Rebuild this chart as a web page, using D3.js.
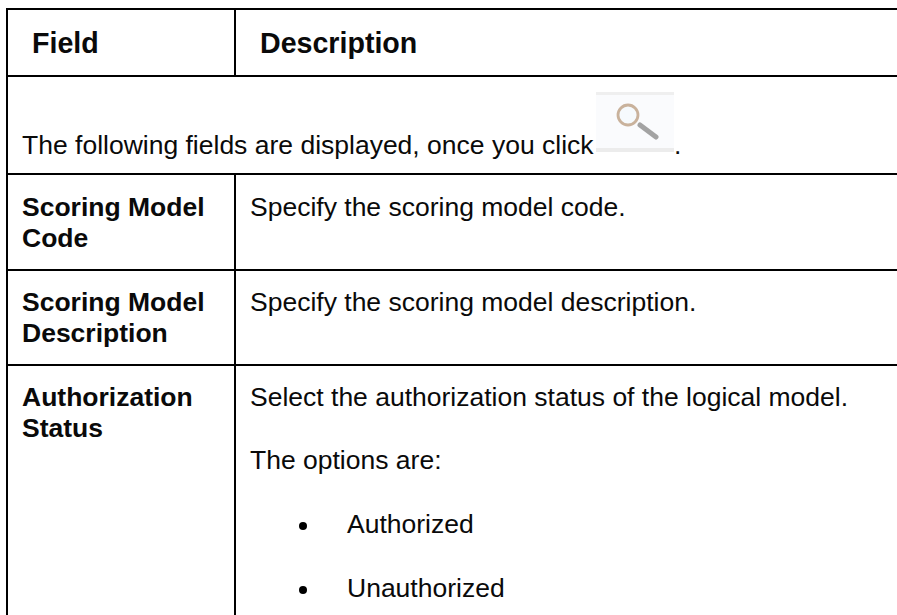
<!DOCTYPE html>
<html><head><meta charset="utf-8">
<script src="https://cdn.jsdelivr.net/npm/d3@7"></script>
<style>html,body{margin:0;padding:0;background:#fff}svg{display:block}text{font-family:"Liberation Sans",Arial,sans-serif;fill:#0a0a0a}</style>
</head><body><svg id="c" width="897" height="615"></svg>
<script>
const rowKeys = ["top","header","intro","code","desc","auth"];
const headerLabels = ["Field","Description"];
const introText = ["The following fields are displayed, once you click", "."];
const fieldLabels = [["Scoring Model","Code"],["Scoring Model","Description"],["Authorization","Status"]];
const descriptions = ["Specify the scoring model code.","Specify the scoring model description.","Select the authorization status of the logical model."];
const optionsLead = "The options are:";
const optionValues = ["Authorized","Unauthorized"];

const W=897,H=615;
const svg=d3.select("#c");
const y=d3.scaleOrdinal().domain(rowKeys).range([9,76,174,270,365,H]);
const x=d3.scaleOrdinal().domain(["left","mid"]).range([7,235]);
const fs=26.5;

const line=(x1,y1,x2,y2)=>svg.append("line").attr("x1",x1).attr("y1",y1).attr("x2",x2).attr("y2",y2).attr("stroke","#000").attr("stroke-width",2);
svg.selectAll("line.h").data(rowKeys.slice(0,5)).join("line").attr("class","h")
  .attr("x1",x("left")-1).attr("x2",W).attr("y1",d=>y(d)).attr("y2",d=>y(d)).attr("stroke","#000").attr("stroke-width",2);
line(x("left"),y("top"),x("left"),H);
line(x("mid"),y("top"),x("mid"),y("header"));
line(x("mid"),y("intro"),x("mid"),H);

const t=(s,px,py,bold,size)=>svg.append("text").attr("x",px).attr("y",py).attr("font-size",size||fs).attr("font-weight",bold?700:400).text(s);

t(headerLabels[0],32,53,true,28.6);
t(headerLabels[1],260,53,true,28.6);
t(introText[0],22,y("intro")-20,false);
t(introText[1],674,y("intro")-20,false);

// search icon
svg.append("defs").append("filter").attr("id","soft").append("feGaussianBlur").attr("stdDeviation",0.6);
const icon=svg.append("g").attr("transform","translate(596,92)");
icon.append("rect").attr("width",78).attr("height",60).attr("fill","#fafbfd");
icon.append("rect").attr("width",78).attr("height",3).attr("fill","#efefef");
icon.append("rect").attr("y",56).attr("width",78).attr("height",4).attr("fill","#ececec");
const glyph=icon.append("g").attr("filter","url(#soft)");
glyph.append("circle").attr("cx",32).attr("cy",23).attr("r",10).attr("fill","#f6fafd").attr("stroke","#c9b29c").attr("stroke-width",2.8);
glyph.append("line").attr("x1",44).attr("y1",33).attr("x2",60).attr("y2",45).attr("stroke","#a3a3a3").attr("stroke-width",5).attr("stroke-linecap","round");

const firstBase=[216,311,406], lh=31;
fieldLabels.forEach((ls,i)=>ls.forEach((s,j)=>t(s,22,firstBase[i]+j*lh,true)));
descriptions.forEach((s,i)=>t(s,250,firstBase[i],false));
t(optionsLead,250,469,false);
const optBase=[533,597];
optionValues.forEach((s,i)=>{
  svg.append("circle").attr("cx",303).attr("cy",optBase[i]-7).attr("r",4).attr("fill","#000");
  t(s,347,optBase[i],false);
});
</script></body></html>
